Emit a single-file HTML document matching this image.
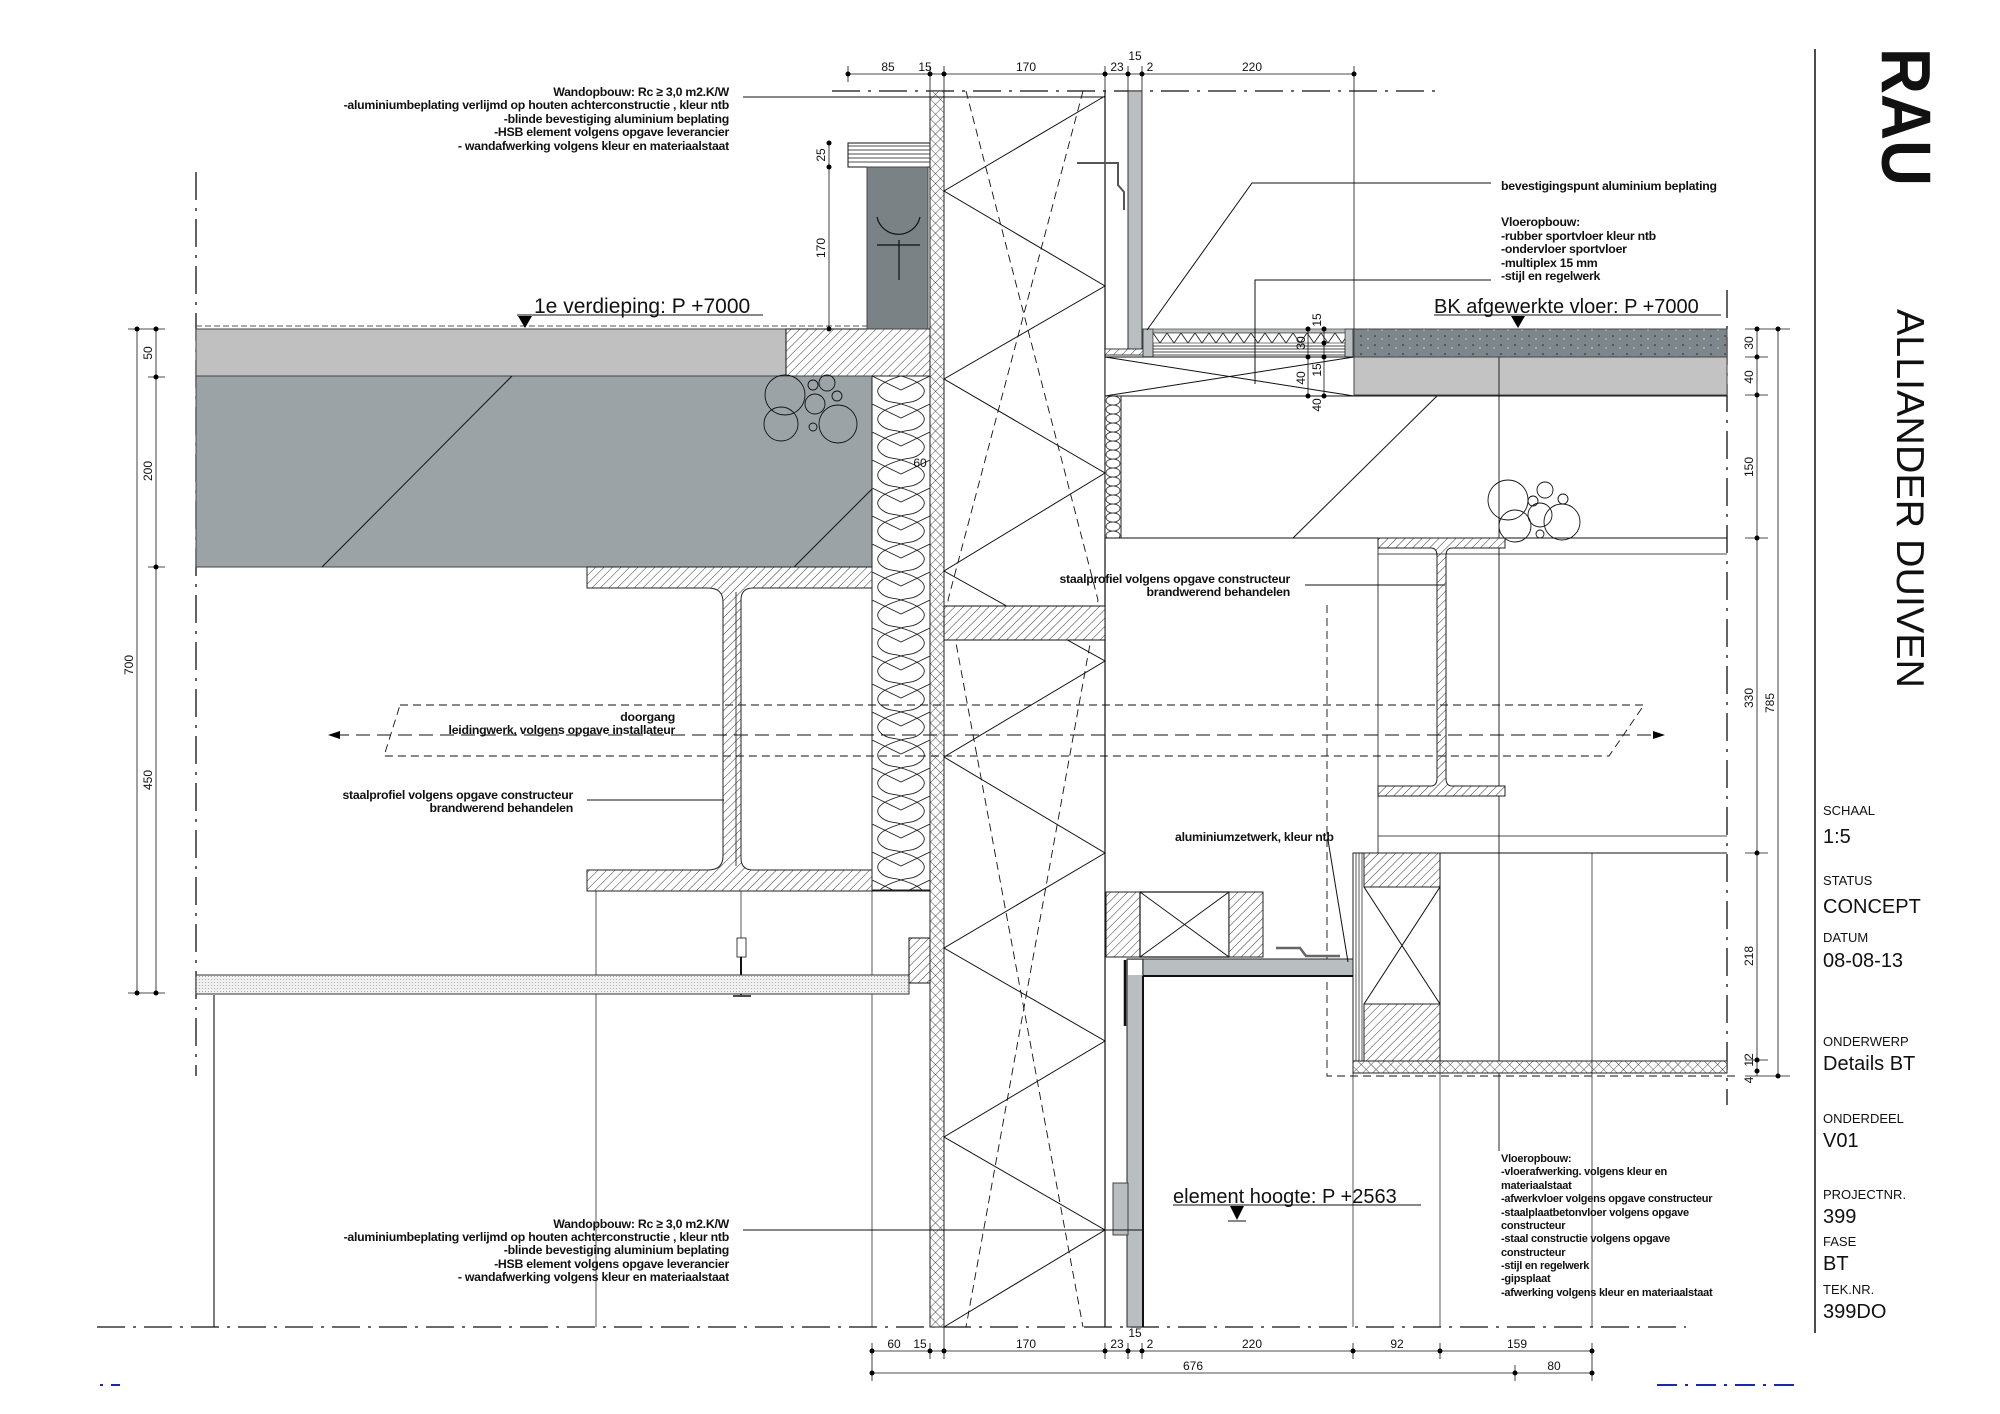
<!DOCTYPE html>
<html><head><meta charset="utf-8"><style>
html,body{margin:0;padding:0;background:#fff}
svg{display:block}
text{font-family:"Liberation Sans",sans-serif;fill:#111}
.n{font-size:12.3px;font-weight:bold;letter-spacing:-0.25px}
.s{font-size:11px;font-weight:bold;letter-spacing:-0.25px}
.d{font-size:12px;fill:#222}
</style></head><body>
<svg width="2000" height="1414" viewBox="0 0 2000 1414" xmlns="http://www.w3.org/2000/svg">
<defs>
<pattern id="h" width="6" height="6" patternUnits="userSpaceOnUse" patternTransform="rotate(45)"><rect width="6" height="6" fill="#fff"/><line x1="0" y1="0" x2="0" y2="6" stroke="#222" stroke-width="0.9"/></pattern>
<pattern id="x" width="7" height="7" patternUnits="userSpaceOnUse" patternTransform="rotate(45)"><rect width="7" height="7" fill="#fff"/><line x1="0" y1="0" x2="0" y2="7" stroke="#222" stroke-width="0.8"/><line x1="0" y1="0" x2="7" y2="0" stroke="#222" stroke-width="0.8"/></pattern>
<pattern id="ins" x="872" y="376" width="58" height="28" patternUnits="userSpaceOnUse"><rect width="58" height="28" fill="#fff"/><path d="M29 0 C8 6 0 14 10 22 C16 27 24 26 29 28 C34 26 42 27 48 22 C58 14 50 6 29 0 Z M0 0 L29 14 L58 0" fill="none" stroke="#222" stroke-width="0.9"/></pattern>
<pattern id="ins2" width="16" height="9" patternUnits="userSpaceOnUse" x="1105"><rect width="16" height="9" fill="#fff"/><ellipse cx="8" cy="4.5" rx="7" ry="4.5" fill="none" stroke="#222" stroke-width="0.8"/></pattern>
<pattern id="sp" width="14" height="9" patternUnits="userSpaceOnUse"><rect width="14" height="9" fill="#7d868a"/><circle cx="3" cy="3" r="0.8" fill="#222"/><circle cx="10" cy="6" r="0.7" fill="#ddd"/></pattern>
<pattern id="dt" width="3" height="3" patternUnits="userSpaceOnUse"><rect width="3" height="3" fill="#f0f0f0"/><circle cx="1.5" cy="1.5" r="0.5" fill="#999"/></pattern>
<pattern id="zz" width="14" height="10" patternUnits="userSpaceOnUse" x="1153" y="333"><rect width="14" height="10" fill="#fff"/><path d="M0 0 L7 10 L14 0" fill="none" stroke="#222" stroke-width="0.9"/></pattern>
</defs>
<g stroke="#111" fill="none" stroke-width="1">
<line x1="832" y1="91" x2="1440" y2="91" stroke-width="1.3" stroke-dasharray="28,8,3,8"/>
<line x1="97" y1="1327" x2="1686" y2="1327" stroke-width="1.3" stroke-dasharray="28,8,3,8"/>
<line x1="196" y1="172" x2="196" y2="1076" stroke-width="1.3" stroke-dasharray="28,8,3,8"/>
<line x1="1727" y1="290" x2="1727" y2="1105" stroke-width="1.3" stroke-dasharray="28,8,3,8"/>
<line x1="1657" y1="1385" x2="1794" y2="1385" stroke="#1a2aa8" stroke-width="2" stroke-dasharray="20,8,3,8"/>
<line x1="100" y1="1385" x2="120" y2="1385" stroke="#1a2aa8" stroke-width="2" stroke-dasharray="3,8,10,4"/>

<rect x="196" y="329" width="590" height="47" fill="#c0c0c0" stroke="#444"/>
<rect x="786" y="329" width="144" height="47" fill="url(#h)"/>
<line x1="196" y1="326" x2="867" y2="326" stroke-dasharray="6,3" stroke="#555"/>
<rect x="196" y="376" width="676" height="191" fill="#9ca3a6" stroke="#444"/>
<line x1="322" y1="567" x2="512" y2="376"/>
<line x1="794" y1="567" x2="872" y2="489"/>
<g stroke-width="0.9"><circle cx="785" cy="395" r="20"/><circle cx="781" cy="424" r="17"/><circle cx="815" cy="404" r="10"/><circle cx="827" cy="383" r="8"/><circle cx="838" cy="424" r="19"/><circle cx="813" cy="385" r="5"/><circle cx="813" cy="427" r="4"/><circle cx="837" cy="396" r="5"/></g>
<rect x="848" y="143" width="82" height="24" fill="#fff"/>
<g stroke-width="0.7"><line x1="848" y1="146" x2="930" y2="146"/><line x1="848" y1="150" x2="930" y2="150"/><line x1="848" y1="154" x2="930" y2="154"/><line x1="848" y1="158" x2="930" y2="158"/><line x1="848" y1="162" x2="930" y2="162"/></g>
<rect x="867" y="167" width="61" height="162" fill="#7a8286" stroke="#444"/>
<path d="M877 217 A22 22 0 0 0 920 217 M899 240 V280 M877 245 H920" stroke-width="1.2"/>
<line x1="829" y1="143" x2="829" y2="329" stroke-width="0.8"/>
<g fill="#000" stroke="none"><circle cx="829" cy="143" r="2.5"/><circle cx="829" cy="167" r="2.5"/><circle cx="829" cy="329" r="2.5"/></g>
<rect x="872" y="376" width="58" height="514" fill="url(#ins)" stroke="#222"/>
<path d="M587 567 H872 V588 H753 Q741 588 741 600 V858 Q741 870 753 870 H872 V891 H587 V870 H708 Q723 870 723 856 V602 Q723 588 708 588 H587 Z" fill="url(#h)" stroke="#222"/>
<line x1="736" y1="592" x2="736" y2="866" stroke-width="0.8"/>
<line x1="872" y1="891" x2="930" y2="891"/>
<line x1="596" y1="891" x2="596" y2="1327" stroke-width="0.7"/>
<line x1="872" y1="891" x2="872" y2="1327" stroke-width="0.7"/>
<line x1="741" y1="891" x2="741" y2="938" stroke-width="0.7"/>
<rect x="737" y="938" width="9" height="19" fill="#fff" stroke-width="0.8"/>
<line x1="741" y1="957" x2="741" y2="995" stroke-width="2"/>
<line x1="733" y1="996" x2="751" y2="996" stroke-width="1.5"/>
<rect x="196" y="975" width="713" height="19" fill="url(#dt)" stroke="#333"/>
<rect x="909" y="938" width="21" height="45" fill="url(#h)"/>
<line x1="214" y1="995" x2="214" y2="1327" stroke-width="1.1"/>
<line x1="137" y1="329" x2="137" y2="993" stroke-width="0.8"/>
<line x1="156" y1="329" x2="156" y2="993" stroke-width="0.8"/>
<g stroke-width="0.8"><line x1="128" y1="329" x2="165" y2="329"/><line x1="148" y1="377" x2="165" y2="377"/><line x1="148" y1="567" x2="165" y2="567"/><line x1="128" y1="993" x2="165" y2="993"/></g>
<g fill="#000" stroke="none"><circle cx="137" cy="329" r="2.5"/><circle cx="156" cy="329" r="2.5"/><circle cx="156" cy="377" r="2.5"/><circle cx="156" cy="567" r="2.5"/><circle cx="137" cy="993" r="2.5"/><circle cx="156" cy="993" r="2.5"/></g>

<rect x="930" y="91" width="14" height="1236" fill="url(#x)" stroke="#222"/>
<line x1="1105" y1="91" x2="1105" y2="1327" stroke-width="1.2"/>
<polyline points="1105,96 944,191 1105,286 944,379 1105,473 944,571 1105,661 944,757 1105,853 944,948 1105,1041 944,1137 1105,1230 944,1327" stroke-width="1"/>
<polyline points="966,91 1098,600 966,1327" stroke-dasharray="8,5" stroke-width="0.9"/>
<polyline points="1083,91 948,600 1083,1327" stroke-dasharray="8,5" stroke-width="0.9"/>
<rect x="944" y="606" width="161" height="34" fill="url(#h)"/>
<rect x="1128" y="91" width="14" height="259" fill="#b9bec1" stroke="#333"/>
<path d="M1077 163 H1118 V185 L1124 192 V210" stroke-width="2" stroke="#555"/>
<rect x="1105" y="349" width="38" height="6" fill="url(#h)" stroke-width="0.8"/>
<rect x="1143" y="329" width="10" height="28" fill="#b9bec1" stroke="#444"/>
<rect x="1345" y="329" width="8" height="28" fill="#b9bec1" stroke="#444"/>
<rect x="1153" y="329" width="192" height="4" fill="#b9bec1" stroke="#444" stroke-width="0.7"/>
<rect x="1153" y="333" width="192" height="10" fill="url(#zz)" stroke="#444" stroke-width="0.7"/>
<g stroke-width="0.7"><line x1="1153" y1="346" x2="1345" y2="346"/><line x1="1153" y1="349" x2="1345" y2="349"/><line x1="1153" y1="352" x2="1345" y2="352"/><line x1="1153" y1="355" x2="1345" y2="355"/></g>
<rect x="1105" y="357" width="249" height="39" fill="#fff"/>
<line x1="1105" y1="357" x2="1354" y2="396"/><line x1="1105" y1="396" x2="1354" y2="357"/>
<line x1="1105" y1="357" x2="1354" y2="357"/>
<rect x="1354" y="329" width="373" height="28" fill="url(#sp)" stroke="#444"/>
<rect x="1354" y="357" width="373" height="38" fill="#c3c3c3" stroke="#444"/>
<line x1="1105" y1="396" x2="1727" y2="396"/>
<rect x="1105" y="396" width="16" height="142" fill="url(#ins2)" stroke="#222"/>
<line x1="1105" y1="538" x2="1727" y2="538"/>
<line x1="1293" y1="538" x2="1437" y2="396"/>
<g stroke-width="0.9"><circle cx="1508" cy="500" r="20"/><circle cx="1515" cy="526" r="16"/><circle cx="1540" cy="515" r="12"/><circle cx="1562" cy="522" r="18"/><circle cx="1545" cy="490" r="8"/><circle cx="1533" cy="501" r="5"/><circle cx="1563" cy="499" r="5"/><circle cx="1540" cy="534" r="4"/></g>
<line x1="1499" y1="357" x2="1499" y2="1151" stroke-width="0.9"/>
<line x1="1308" y1="329" x2="1308" y2="396" stroke-width="0.8"/><line x1="1324" y1="329" x2="1324" y2="396" stroke-width="0.8"/>
<g fill="#000" stroke="none"><circle cx="1308" cy="329" r="2.5"/><circle cx="1324" cy="329" r="2.5"/><circle cx="1324" cy="343" r="2.5"/><circle cx="1308" cy="357" r="2.5"/><circle cx="1324" cy="357" r="2.5"/><circle cx="1308" cy="396" r="2.5"/><circle cx="1324" cy="396" r="2.5"/></g>
<path d="M1378 538 H1505 V548 H1452 Q1446 548 1446 556 V778 Q1446 786 1452 786 H1505 V796 H1378 V786 H1431 Q1437 786 1437 778 V556 Q1437 548 1431 548 H1378 Z" fill="url(#h)" stroke="#222"/>
<line x1="1378" y1="548" x2="1378" y2="853" stroke-width="0.8"/>
<line x1="1378" y1="554" x2="1727" y2="554" stroke-width="0.7"/>
<line x1="1378" y1="836" x2="1727" y2="836" stroke-width="0.8"/>
<line x1="1353" y1="853" x2="1727" y2="853" stroke-width="0.9"/>
<polygon points="400,705 1644,705 1609,756 384,756" stroke-dasharray="8,5" stroke-width="0.9"/>
<line x1="335" y1="735" x2="1655" y2="735" stroke-dasharray="14,7" stroke-width="0.9"/>
<path d="M328 735 L340 731 L340 739 Z M1665 735 L1653 731 L1653 739 Z" fill="#000" stroke="none"/>
<polyline points="1327,605 1327,1076 1740,1076" stroke-dasharray="8,5" stroke-width="0.9"/>
<rect x="1353" y="853" width="87" height="208" fill="#fff" stroke="#222"/>
<line x1="1356" y1="853" x2="1356" y2="1061" stroke-width="0.7"/><line x1="1359" y1="853" x2="1359" y2="1061" stroke-width="0.7"/><line x1="1362" y1="853" x2="1362" y2="1061" stroke-width="0.7"/>
<rect x="1364" y="853" width="76" height="34" fill="url(#h)" stroke="#222"/>
<rect x="1364" y="1004" width="76" height="57" fill="url(#h)" stroke="#222"/>
<line x1="1364" y1="887" x2="1440" y2="1004"/><line x1="1440" y1="887" x2="1364" y2="1004"/>
<rect x="1353" y="1061" width="374" height="12" fill="url(#x)" stroke="#222"/>
<line x1="1440" y1="853" x2="1440" y2="1327" stroke-width="0.7"/>
<line x1="1592" y1="853" x2="1592" y2="1327" stroke-width="0.7"/>
<line x1="1353" y1="1073" x2="1353" y2="1327" stroke-width="0.7"/>
<rect x="1106" y="892" width="34" height="65" fill="url(#h)" stroke="#222"/>
<rect x="1140" y="892" width="89" height="65" fill="#fff" stroke="#222" stroke-width="1.3"/>
<line x1="1140" y1="892" x2="1229" y2="957"/><line x1="1229" y1="892" x2="1140" y2="957"/>
<rect x="1229" y="892" width="34" height="65" fill="url(#h)" stroke="#222"/>
<path d="M1276 948 L1300 948 L1306 956 L1340 956" stroke="#666" stroke-width="2.5"/>
<rect x="1127" y="959" width="226" height="17" fill="#b9bec1" stroke="#222"/>
<rect x="1127" y="959" width="16" height="368" fill="#b9bec1" stroke="#222"/>
<rect x="1128" y="960" width="14" height="15" fill="#fff" stroke="none"/>
<line x1="1125" y1="960" x2="1125" y2="1026" stroke-width="2.5"/>
<line x1="1143" y1="976" x2="1143" y2="1327" stroke-width="2"/>
<line x1="1143" y1="976" x2="1353" y2="976" stroke-width="2"/>
<rect x="1113" y="1183" width="15" height="52" fill="#b9bec1" stroke="#444"/>
<line x1="944" y1="1230" x2="1143" y2="1230" stroke-width="1"/>
<line x1="743" y1="97" x2="1105" y2="97"/>
<line x1="743" y1="1230" x2="1105" y2="1230"/>
<polyline points="1491,183 1252,183 1147,330"/>
<polyline points="1491,280 1255,280 1255,384"/>
<line x1="587" y1="800" x2="724" y2="800"/>
<line x1="1305" y1="585" x2="1445" y2="585"/>
<line x1="1328" y1="840" x2="1348" y2="962"/>
<line x1="517" y1="315" x2="763" y2="315"/><path d="M518 316 H532 L525 328 Z" fill="#000" stroke="none"/>
<line x1="1434" y1="315" x2="1721" y2="315"/><path d="M1511 316 H1525 L1518 328 Z" fill="#000" stroke="none"/>
<line x1="1173" y1="1205" x2="1421" y2="1205"/><path d="M1230 1206 H1244 L1237 1220 Z" fill="#000" stroke="none"/><line x1="1228" y1="1221" x2="1246" y2="1221"/>
<line x1="848" y1="74" x2="1354" y2="74" stroke-width="0.8"/>
<g stroke-width="0.8"><line x1="848" y1="66" x2="848" y2="82"/><line x1="930" y1="66" x2="930" y2="91"/><line x1="944" y1="66" x2="944" y2="91"/><line x1="1105" y1="66" x2="1105" y2="91"/><line x1="1128" y1="66" x2="1128" y2="91"/><line x1="1142" y1="66" x2="1142" y2="91"/><line x1="1354" y1="66" x2="1354" y2="329"/></g>
<g fill="#000" stroke="none"><circle cx="848" cy="74" r="2.5"/><circle cx="930" cy="74" r="2.5"/><circle cx="944" cy="74" r="2.5"/><circle cx="1105" cy="74" r="2.5"/><circle cx="1128" cy="74" r="2.5"/><circle cx="1142" cy="74" r="2.5"/><circle cx="1354" cy="74" r="2.5"/></g>
<line x1="872" y1="1351" x2="1592" y2="1351" stroke-width="0.8"/>
<line x1="872" y1="1373" x2="1592" y2="1373" stroke-width="0.8"/>
<g stroke-width="0.8"><line x1="872" y1="1343" x2="872" y2="1381"/><line x1="930" y1="1343" x2="930" y2="1359"/><line x1="944" y1="1327" x2="944" y2="1359"/><line x1="1105" y1="1343" x2="1105" y2="1359"/><line x1="1128" y1="1343" x2="1128" y2="1359"/><line x1="1142" y1="1343" x2="1142" y2="1359"/><line x1="1353" y1="1343" x2="1353" y2="1359"/><line x1="1440" y1="1343" x2="1440" y2="1359"/><line x1="1592" y1="1343" x2="1592" y2="1381"/><line x1="1515" y1="1365" x2="1515" y2="1381"/></g>
<g fill="#000" stroke="none"><circle cx="872" cy="1351" r="2.5"/><circle cx="930" cy="1351" r="2.5"/><circle cx="944" cy="1351" r="2.5"/><circle cx="1105" cy="1351" r="2.5"/><circle cx="1128" cy="1351" r="2.5"/><circle cx="1142" cy="1351" r="2.5"/><circle cx="1353" cy="1351" r="2.5"/><circle cx="1440" cy="1351" r="2.5"/><circle cx="1592" cy="1351" r="2.5"/><circle cx="872" cy="1373" r="2.5"/><circle cx="1515" cy="1373" r="2.5"/><circle cx="1592" cy="1373" r="2.5"/></g>
<line x1="1757" y1="329" x2="1757" y2="1076" stroke-width="0.8"/>
<line x1="1778" y1="329" x2="1778" y2="1076" stroke-width="0.8"/>
<g fill="#000" stroke="none"><circle cx="1757" cy="329" r="2.5"/><circle cx="1778" cy="329" r="2.5"/><circle cx="1757" cy="357" r="2.5"/><circle cx="1757" cy="395" r="2.5"/><circle cx="1757" cy="538" r="2.5"/><circle cx="1757" cy="853" r="2.5"/><circle cx="1757" cy="1060" r="2.5"/><circle cx="1757" cy="1071" r="2.5"/><circle cx="1778" cy="1076" r="2.5"/></g>
<g stroke-width="0.8"><line x1="1745" y1="329" x2="1790" y2="329"/><line x1="1745" y1="357" x2="1768" y2="357"/><line x1="1745" y1="395" x2="1768" y2="395"/><line x1="1745" y1="538" x2="1768" y2="538"/><line x1="1745" y1="853" x2="1768" y2="853"/><line x1="1745" y1="1060" x2="1768" y2="1060"/><line x1="1745" y1="1076" x2="1790" y2="1076"/></g>
<line x1="1815" y1="49" x2="1815" y2="1333" stroke-width="1.5"/>
</g>

<g class="n" text-anchor="end">
<text x="729" y="96">Wandopbouw: Rc ≥ 3,0 m2.K/W</text>
<text x="729" y="109">-aluminiumbeplating  verlijmd op houten achterconstructie , kleur ntb</text>
<text x="729" y="123">-blinde bevestiging  aluminium beplating</text>
<text x="729" y="136">-HSB element volgens opgave leverancier</text>
<text x="729" y="150">- wandafwerking volgens kleur en materiaalstaat</text>
<text x="729" y="1228">Wandopbouw: Rc ≥ 3,0 m2.K/W</text>
<text x="729" y="1241">-aluminiumbeplating  verlijmd op houten achterconstructie , kleur ntb</text>
<text x="729" y="1254">-blinde bevestiging  aluminium beplating</text>
<text x="729" y="1268">-HSB element volgens opgave leverancier</text>
<text x="729" y="1281">- wandafwerking volgens kleur en materiaalstaat</text>
<text x="675" y="721">doorgang</text>
<text x="675" y="734">leidingwerk, volgens opgave installateur</text>
<text x="573" y="799">staalprofiel volgens opgave constructeur</text>
<text x="573" y="812">brandwerend behandelen</text>
<text x="1290" y="583">staalprofiel volgens opgave constructeur</text>
<text x="1290" y="596">brandwerend behandelen</text>
</g>
<g class="n">
<text x="1501" y="190">bevestigingspunt aluminium beplating</text>
<text x="1501" y="226">Vloeropbouw:</text>
<text x="1501" y="240">-rubber sportvloer kleur ntb</text>
<text x="1501" y="253">-ondervloer sportvloer</text>
<text x="1501" y="267">-multiplex 15 mm</text>
<text x="1501" y="280">-stijl en regelwerk</text>
<text x="1175" y="841">aluminiumzetwerk, kleur ntb</text>
</g>
<g class="s">
<text x="1501" y="1162">Vloeropbouw:</text>
<text x="1501" y="1175">-vloerafwerking. volgens kleur en</text>
<text x="1501" y="1189">materiaalstaat</text>
<text x="1501" y="1202">-afwerkvloer volgens opgave constructeur</text>
<text x="1501" y="1216">-staalplaatbetonvloer volgens opgave</text>
<text x="1501" y="1229">constructeur</text>
<text x="1501" y="1242">-staal constructie volgens opgave</text>
<text x="1501" y="1256">constructeur</text>
<text x="1501" y="1269">-stijl en regelwerk</text>
<text x="1501" y="1282">-gipsplaat</text>
<text x="1501" y="1296">-afwerking volgens kleur en materiaalstaat</text>
</g>
<g style="font-size:20px">
<text x="534" y="313" style="font-size:21px">1e verdieping: P +7000</text>
<text x="1434" y="313">BK afgewerkte vloer: P +7000</text>
<text x="1173" y="1203">element hoogte: P +2563</text>
</g>
<g class="d" text-anchor="middle">
<text x="888" y="71">85</text><text x="925" y="71">15</text><text x="1026" y="71">170</text><text x="1117" y="71">23</text><text x="1135" y="60">15</text><text x="1150" y="71">2</text><text x="1252" y="71">220</text>
<text x="894" y="1348">60</text><text x="920" y="1348">15</text><text x="1026" y="1348">170</text><text x="1117" y="1348">23</text><text x="1135" y="1337">15</text><text x="1150" y="1348">2</text><text x="1252" y="1348">220</text><text x="1397" y="1348">92</text><text x="1517" y="1348">159</text>
<text x="1193" y="1370">676</text><text x="1554" y="1370">80</text>
<text x="920" y="467">60</text>
</g>
<g class="d" text-anchor="middle">
<text transform="translate(152,353) rotate(-90)">50</text>
<text transform="translate(152,471) rotate(-90)">200</text>
<text transform="translate(133,665) rotate(-90)">700</text>
<text transform="translate(152,780) rotate(-90)">450</text>
<text transform="translate(825,155) rotate(-90)">25</text>
<text transform="translate(825,248) rotate(-90)">170</text>
<text transform="translate(1753,343) rotate(-90)">30</text>
<text transform="translate(1753,377) rotate(-90)">40</text>
<text transform="translate(1753,467) rotate(-90)">150</text>
<text transform="translate(1753,698) rotate(-90)">330</text>
<text transform="translate(1753,956) rotate(-90)">218</text>
<text transform="translate(1753,1060) rotate(-90)">12</text>
<text transform="translate(1753,1080) rotate(-90)">4</text>
<text transform="translate(1774,703) rotate(-90)">785</text>
<text transform="translate(1321,320) rotate(-90)">15</text>
<text transform="translate(1305,343) rotate(-90)">30</text>
<text transform="translate(1321,370) rotate(-90)">15</text>
<text transform="translate(1305,378) rotate(-90)">40</text>
<text transform="translate(1321,405) rotate(-90)">40</text>
</g>
<text transform="translate(1882,48) rotate(90)" style="font-size:70px;font-weight:bold" textLength="138" lengthAdjust="spacingAndGlyphs">RAU</text>
<text transform="translate(1897,309) rotate(90)" style="font-size:39px" textLength="379" lengthAdjust="spacingAndGlyphs">ALLIANDER DUIVEN</text>
<g style="font-size:13px">
<text x="1823" y="815">SCHAAL</text><text x="1823" y="885">STATUS</text><text x="1823" y="942">DATUM</text><text x="1823" y="1046">ONDERWERP</text><text x="1823" y="1123">ONDERDEEL</text><text x="1823" y="1199">PROJECTNR.</text><text x="1823" y="1246">FASE</text><text x="1823" y="1294">TEK.NR.</text>
</g>
<g style="font-size:20px">
<text x="1823" y="843">1:5</text><text x="1823" y="913">CONCEPT</text><text x="1823" y="967">08-08-13</text><text x="1823" y="1070">Details BT</text><text x="1823" y="1147">V01</text><text x="1823" y="1223">399</text><text x="1823" y="1270">BT</text><text x="1823" y="1318">399DO</text>
</g>
</svg>
</body></html>
